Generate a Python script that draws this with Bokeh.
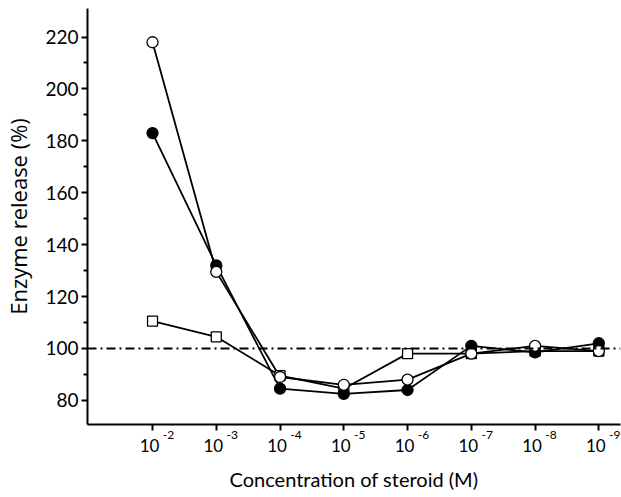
from bokeh.plotting import figure
from bokeh.models import Span, FixedTicker, LinearAxis
from bokeh.embed import file_html
from bokeh.resources import INLINE

exponents = [2, 3, 4, 5, 6, 7, 8, 9]
tick_base = "10"
tick_exps = ["-2", "-3", "-4", "-5", "-6", "-7", "-8", "-9"]
open_circles = [218, 129.5, 89, 86, 88, 98, 101, 99]
filled_circles = [183, 132, 84.5, 82.5, 84, 101, 98.5, 102]
squares = [110.5, 104.5, 89.5, 84.5, 98, 98, 99, 99]
y_ticks = [80, 100, 120, 140, 160, 180, 200, 220]
y_minor = [90, 110, 130, 150, 170, 190, 210]
baseline = 100

FONT = "Lato"
X0, X1 = 0.98, 9.34
Y0, Y1 = 70.7, 231
FRAME_W = 536
UNIT_PX = FRAME_W / (X1 - X0)
EXP_SHIFT = 16 / UNIT_PX      # exponent sits to the right of the tick
BASE_SHIFT = -3 / UNIT_PX     # "10" sits just left of the tick

p = figure(width=621, height=497, output_backend="svg", toolbar_location=None,
           x_range=(X0, X1), y_range=(Y0, Y1),
           min_border_left=84, min_border_right=1, min_border_top=8, min_border_bottom=73)
p.outline_line_color = None
p.xgrid.visible = False
p.ygrid.visible = False
p.background_fill_color = "white"
p.border_fill_color = "white"

p.add_layout(Span(location=baseline, dimension="width", line_color="black",
                  line_width=2, line_dash="9 4 2 4"))

for ys in (squares, filled_circles, open_circles):
    p.line(exponents, ys, line_color="black", line_width=1.8)

p.scatter(exponents, squares, marker="square", size=10, fill_color="white",
          line_color="black", line_width=1.3)
p.scatter(exponents, filled_circles, marker="circle", size=11, fill_color="black",
          line_color="black", line_width=1.3)
p.scatter(exponents, open_circles, marker="circle", size=11, fill_color="white",
          line_color="black", line_width=1.3)

# y axis
p.yaxis.ticker = FixedTicker(ticks=y_ticks, minor_ticks=y_minor)
p.yaxis.axis_line_width = 2
p.yaxis.axis_line_color = "black"
p.yaxis.major_tick_in = 0
p.yaxis.major_tick_out = 6
p.yaxis.minor_tick_in = 0
p.yaxis.minor_tick_out = 4
p.yaxis.major_tick_line_width = 2
p.yaxis.minor_tick_line_width = 2
p.yaxis.major_label_text_font = FONT
p.yaxis.major_label_text_font_size = "19px"
p.yaxis.major_label_text_color = "black"
p.yaxis.major_label_standoff = 3
p.yaxis.axis_label = "Enzyme release (%)"
p.yaxis.axis_label_text_font = "Open Sans"
p.yaxis.axis_label_text_font_size = "22px"
p.yaxis.axis_label_text_font_style = "normal"
p.yaxis.axis_label_text_color = "black"
p.yaxis.axis_label_standoff = 9

# x axis A: line and ticks only
xa = p.xaxis[0]
xa.ticker = FixedTicker(ticks=exponents, minor_ticks=[])
xa.major_label_overrides = {e: "" for e in exponents}
xa.major_label_text_font_size = "1px"
xa.major_label_standoff = 0
xa.axis_line_width = 2
xa.axis_line_color = "black"
xa.major_tick_in = 0
xa.major_tick_out = 6
xa.major_tick_line_width = 2

# x axis B: raised exponents, right of each tick
exp_pos = [e + EXP_SHIFT for e in exponents]
xb = LinearAxis(ticker=FixedTicker(ticks=exp_pos, minor_ticks=[]),
                major_label_overrides={pos: t for pos, t in zip(exp_pos, tick_exps)})
xb.axis_line_color = None
xb.major_tick_line_color = None
xb.major_tick_in = 0
xb.major_tick_out = 0
xb.major_label_text_font = FONT
xb.major_label_text_font_size = "12px"
xb.major_label_text_color = "black"
xb.major_label_standoff = 0
p.add_layout(xb, "below")

# x axis C: the base "10"
base_pos = [e + BASE_SHIFT for e in exponents]
xc = LinearAxis(ticker=FixedTicker(ticks=base_pos, minor_ticks=[]),
                major_label_overrides={pos: tick_base for pos in base_pos})
xc.axis_line_color = None
xc.major_tick_line_color = None
xc.major_tick_in = 0
xc.major_tick_out = 0
xc.major_label_text_font = FONT
xc.major_label_text_font_size = "17px"
xc.major_label_text_color = "black"
xc.major_label_standoff = -3
xc.axis_label = "Concentration of steroid (M)"
xc.axis_label_text_font = FONT
xc.axis_label_text_font_size = "20px"
xc.axis_label_text_font_style = "normal"
xc.axis_label_text_color = "black"
xc.axis_label_standoff = 12
p.add_layout(xc, "below")

open("out.html", "w").write(file_html(p, INLINE))
